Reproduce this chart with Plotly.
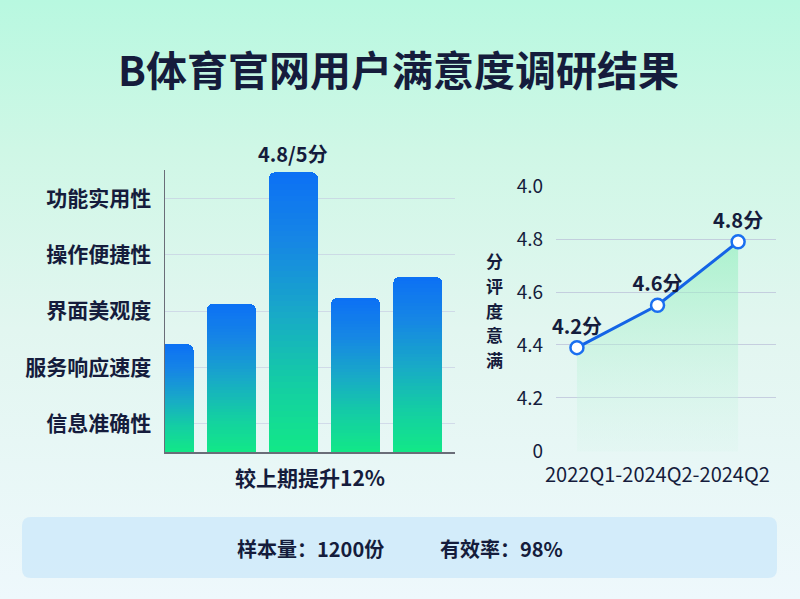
import plotly.graph_objects as go

# ---------------- data ----------------
title_text = "B体育官网用户满意度调研结果"
dimensions = ["信息准确性", "服务响应速度", "界面美观度", "操作便捷性", "功能实用性"]  # bottom -> top
bar_scores = [1.85, 2.54, 4.80, 2.64, 3.00]
bar_top_label = "4.8/5分"
bar_note = "较上期提升12%"

periods = ["2022Q1", "2024Q2", "2024Q2"]
trend_values = [4.39, 4.55, 4.79]
trend_labels = ["4.2分", "4.6分", "4.8分"]
trend_tickvals = [4.0, 4.2, 4.4, 4.6, 4.8, 5.0]
trend_ticktext = ["0", "4.2", "4.4", "4.6", "4.8", "4.0"]
trend_axis_title = "满意度评分"

sample_text = "样本量：1200份"
valid_text = "有效率：98%"

# ---------------- style ----------------
FONT = "Noto Sans CJK SC"
INK = "#151c3c"
W, H = 800, 599
BAR_MAX = 4.84

def px_y(p):
    return 1 - p / H

def px_x(p):
    return p / W

grad_stops = [(0.0, (18, 232, 135)), (0.25, (20, 205, 165)), (0.5, (24, 168, 200)),
              (0.75, (22, 135, 228)), (1.0, (12, 112, 245))]

def grad_color(t):
    for (t0, c0), (t1, c1) in zip(grad_stops[:-1], grad_stops[1:]):
        if t0 <= t <= t1:
            f = (t - t0) / (t1 - t0)
            c = [round(a + (b - a) * f) for a, b in zip(c0, c1)]
            return "rgb(%d,%d,%d)" % tuple(c)
    return "rgb(%d,%d,%d)" % grad_stops[-1][1]

fig = go.Figure()

# background gradient (full paper)
fig.add_trace(go.Scatter(
    x=[0, 1, 1, 0, 0], y=[0, 0, 1, 1, 0], mode="lines", fill="toself",
    line=dict(width=0),
    fillgradient=dict(type="vertical",
                      colorscale=[[0, "#eef8fc"], [0.45, "#e2f6f0"], [0.75, "#cff7e6"], [1, "#b8f8e0"]]),
    hoverinfo="skip", showlegend=False, xaxis="x", yaxis="y"))

# gradient bars as stacked slices
N = 48
xs = list(range(len(bar_scores)))
for i in range(N):
    t = (i + 0.5) / N
    fig.add_trace(go.Bar(
        x=xs, y=[v / N for v in bar_scores], width=0.79,
        marker=dict(color=grad_color(t), line=dict(width=0)),
        hoverinfo="skip", showlegend=False, xaxis="x2", yaxis="y2"))

# trend line
fig.add_trace(go.Scatter(
    x=list(range(len(trend_values))), y=trend_values,
    mode="lines+markers+text", text=trend_labels, textposition="top center",
    textfont=dict(family=FONT, size=20, color=INK, weight="bold"),
    line=dict(color="#1464e6", width=3),
    marker=dict(size=13, color="white", line=dict(color="#1a6ff0", width=2.5)),
    fill="tozeroy",
    fillgradient=dict(type="vertical", start=4.0, stop=4.8,
                      colorscale=[[0, "rgba(215,245,235,0.25)"], [1, "rgba(140,238,185,0.6)"]]),
    cliponaxis=False, hoverinfo="skip", showlegend=False, xaxis="x3", yaxis="y3"))

def ann(text, x, y, size, weight="normal", xref="paper", yref="paper", **kw):
    return dict(text=text, x=x, y=y, xref=xref, yref=yref, showarrow=False,
                xanchor="center", yanchor="middle",
                font=dict(family=FONT, size=size, color=INK, weight=weight), **kw)

annotations = [
    ann(title_text, 0.4975, px_y(68.5), 41, "bold"),
    ann(bar_top_label, 2, bar_scores[2], 20, "bold", xref="x2", yref="y2", yshift=19),
    ann(bar_note, px_x(310), px_y(477), 21, "bold"),
    ann("-".join(periods), 1, px_y(473), 20, "normal", xref="x3"),
    ann(sample_text, px_x(310), px_y(548), 20, "bold"),
    ann(valid_text, px_x(501), px_y(548), 20, "bold"),
]
# vertical stacked axis title (characters read bottom -> top)
title_chars = list(reversed(trend_axis_title))
step = 24.7
for i, ch in enumerate(title_chars):
    yy = 310 + (i - (len(title_chars) - 1) / 2) * step
    annotations.append(ann(ch, px_x(494), px_y(yy), 17, "bold"))

# footer rounded box
x0, x1, y0, y1 = px_x(22), px_x(777), px_y(578), px_y(517)
rx, ry = 9 / W, 9 / H
footer_path = (f"M {x0+rx},{y0} L {x1-rx},{y0} Q {x1},{y0} {x1},{y0+ry} "
               f"L {x1},{y1-ry} Q {x1},{y1} {x1-rx},{y1} L {x0+rx},{y1} "
               f"Q {x0},{y1} {x0},{y1-ry} L {x0},{y0+ry} Q {x0},{y0} {x0+rx},{y0} Z")

fig.update_layout(
    width=W, height=H, margin=dict(l=0, r=0, t=0, b=0, pad=0, autoexpand=False),
    paper_bgcolor="#e6f7f2", plot_bgcolor="rgba(0,0,0,0)",
    barmode="stack", barcornerradius=6, bargap=0.2,
    font=dict(family=FONT, color=INK),
    showlegend=False,
    xaxis=dict(domain=[0, 1], range=[0, 1], visible=False, fixedrange=True, automargin=False),
    yaxis=dict(domain=[0, 1], range=[0, 1], visible=False, fixedrange=True, automargin=False),
    xaxis2=dict(domain=[px_x(165), px_x(455)], anchor="y2", range=[-0.065, 4.6], automargin=False,
                showticklabels=False, showgrid=False, zeroline=False, ticks="",
                showline=True, linecolor="#6a6d78", linewidth=1.5),
    yaxis2=dict(domain=[px_y(452), px_y(170)], anchor="x2", range=[0, BAR_MAX], automargin=False,
                tickvals=[(k + 0.5) * BAR_MAX / len(dimensions) for k in range(len(dimensions))],
                ticktext=dimensions, ticks="", ticklabelstandoff=8,
                tickfont=dict(family=FONT, size=21, color=INK, weight="bold"),
                showgrid=True, gridcolor="rgba(195,200,225,0.6)", gridwidth=1,
                zeroline=False, showline=True, linecolor="#6a6d78", linewidth=1.5),
    xaxis3=dict(domain=[px_x(556), px_x(776)], anchor="y3", range=[-0.26, 2.47], automargin=False,
                showticklabels=False, showgrid=False, zeroline=False, ticks=""),
    yaxis3=dict(domain=[px_y(451.5), px_y(185.5)], anchor="x3", range=[3.998, 5.002], automargin=False,
                tickvals=trend_tickvals, ticktext=trend_ticktext, ticks="", ticklabelstandoff=12,
                tickfont=dict(family=FONT, size=19, color=INK),
                showgrid=True, gridcolor="rgba(185,190,215,0.7)", gridwidth=1,
                zeroline=False, showline=False),
    annotations=annotations,
    shapes=[dict(type="path", path=footer_path, xref="paper", yref="paper", layer="above",
                 fillcolor="rgba(205,232,250,0.8)", line=dict(width=0))],
)

fig.write_html("out.html", config={"displayModeBar": False, "staticPlot": True},
               post_script="document.body.style.margin='0';document.body.style.overflow='hidden';")
